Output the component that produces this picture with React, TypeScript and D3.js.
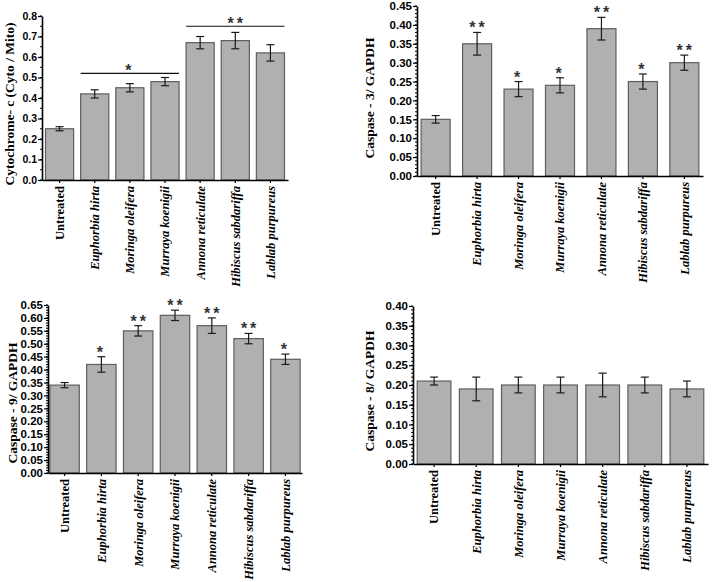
import { useEffect, useRef } from "react";
import * as d3 from "d3";

const categories = [
  "Untreated",
  "Euphorbia hirta",
  "Moringa oleifera",
  "Murraya koenigii",
  "Annona reticulate",
  "Hibiscus sabdariffa",
  "Lablab purpureus",
];

// Cytochrome-c (Cyto / Mito)
const cytoValues = [0.25, 0.42, 0.45, 0.48, 0.67, 0.68, 0.62];
const cytoErrors = [0.01, 0.02, 0.02, 0.02, 0.03, 0.04, 0.04];
const cytoBrackets = [
  { from: 1, to: 3, level: 0.52, label: "*" },
  { from: 4, to: 6, level: 0.75, label: "**" },
];

// Caspase-3 / GAPDH
const casp3Values = [0.15, 0.35, 0.23, 0.24, 0.39, 0.25, 0.3];
const casp3Errors = [0.01, 0.03, 0.02, 0.02, 0.03, 0.02, 0.02];
const casp3Stars = ["", "**", "*", "*", "**", "*", "**"];

// Caspase-9 / GAPDH
const casp9Values = [0.34, 0.42, 0.55, 0.61, 0.57, 0.52, 0.44];
const casp9Errors = [0.01, 0.03, 0.02, 0.02, 0.03, 0.02, 0.02];
const casp9Stars = ["", "*", "**", "**", "**", "**", "*"];

// Caspase-8 / GAPDH
const casp8Values = [0.21, 0.19, 0.2, 0.2, 0.2, 0.2, 0.19];
const casp8Errors = [0.01, 0.03, 0.02, 0.02, 0.03, 0.02, 0.02];

interface Bracket {
  from: number;
  to: number;
  level: number;
  label: string;
}

interface PanelProps {
  values: number[];
  errors: number[];
  stars?: string[];
  brackets?: Bracket[];
  yMax: number;
  major: number;
  minor: number;
  fmt: string;
  yLabel: string;
  box: { left: number; right: number; top: number; bottom: number };
  label: { x: number; y: number };
  padInner: number;
  padOuter: number;
  tickFont: number;
}

const Panel: React.FC<PanelProps> = (p) => {
  const gRef = useRef<SVGGElement | null>(null);

  useEffect(() => {
    if (!gRef.current) return;
    const g = d3.select(gRef.current);
    g.selectAll("*").remove();

    const x = d3
      .scaleBand()
      .domain(categories)
      .range([p.box.left, p.box.right])
      .paddingInner(p.padInner)
      .paddingOuter(p.padOuter);

    const y = d3.scaleLinear().domain([0, p.yMax]).range([p.box.bottom, p.box.top]);

    // bars
    g.selectAll(".bar")
      .data(p.values)
      .enter()
      .append("rect")
      .attr("x", (_, i) => x(categories[i]) ?? 0)
      .attr("y", (d) => y(d))
      .attr("width", x.bandwidth())
      .attr("height", (d) => y(0) - y(d))
      .attr("fill", "#b0b0b0")
      .attr("stroke", "#5e5e5e")
      .attr("stroke-width", 1.2);

    // error bars
    const cx = (i: number) => (x(categories[i]) ?? 0) + x.bandwidth() / 2;
    const eb = g.append("g").attr("stroke", "#1a1a1a").attr("stroke-width", 1.2);
    p.values.forEach((v, i) => {
      const hi = y(v + p.errors[i]);
      const lo = y(v - p.errors[i]);
      eb.append("line").attr("x1", cx(i)).attr("x2", cx(i)).attr("y1", hi).attr("y2", lo);
      eb.append("line").attr("x1", cx(i) - 4).attr("x2", cx(i) + 4).attr("y1", hi).attr("y2", hi);
      eb.append("line").attr("x1", cx(i) - 4).attr("x2", cx(i) + 4).attr("y1", lo).attr("y2", lo);
    });

    const starText = (sel: d3.Selection<SVGTextElement, any, any, any>) =>
      sel
        .attr("text-anchor", "middle")
        .attr("font-family", "Liberation Sans, Arial, sans-serif")
        .attr("font-weight", "bold")
        .attr("font-size", 16)
        .attr("letter-spacing", 3)
        .attr("fill", "#333");

    // significance stars above bars
    if (p.stars) {
      g.selectAll(".star")
        .data(p.stars)
        .enter()
        .append("text")
        .attr("x", (_, i) => cx(i) + (p.stars![i].length > 1 ? 1.5 : 0))
        .attr("y", (_, i) => y(p.values[i] + p.errors[i]) + 1)
        .call(starText)
        .text((d) => d);
    }

    // brackets
    if (p.brackets) {
      p.brackets.forEach((b) => {
        const x1 = x(categories[b.from]) ?? 0;
        const x2 = (x(categories[b.to]) ?? 0) + x.bandwidth();
        g.append("line")
          .attr("x1", x1)
          .attr("x2", x2)
          .attr("y1", y(b.level))
          .attr("y2", y(b.level))
          .attr("stroke", "#111")
          .attr("stroke-width", 1.2);
        g.append("text")
          .attr("x", (x1 + x2) / 2 + (b.label.length > 1 ? 1.5 : 0))
          .attr("y", y(b.level) + 3)
          .call(starText)
          .text(b.label);
      });
    }

    // minor ticks
    const minorTicks = d3.range(0, p.yMax + 1e-9, p.minor);
    g.append("g")
      .selectAll("line")
      .data(minorTicks)
      .enter()
      .append("line")
      .attr("x1", p.box.left - 2)
      .attr("x2", p.box.left)
      .attr("y1", (d) => y(d))
      .attr("y2", (d) => y(d))
      .attr("stroke", "#000")
      .attr("stroke-width", 1);

    // y axis
    const majorTicks = d3.range(0, p.yMax + 1e-9, p.major);
    const yAxis = g
      .append("g")
      .attr("transform", `translate(${p.box.left},0)`)
      .call(
        d3
          .axisLeft(y)
          .tickValues(majorTicks)
          .tickFormat(d3.format(p.fmt))
          .tickSize(4)
          .tickSizeOuter(0)
      );
    yAxis.select(".domain").attr("stroke-width", 1.6);
    yAxis.selectAll(".tick line").attr("stroke-width", 1.2);
    yAxis
      .selectAll("text")
      .attr("font-family", "Liberation Sans, Arial, sans-serif")
      .attr("font-weight", "bold")
      .attr("font-size", p.tickFont)
      .attr("x", -5)
      .attr("fill", "#000");

    // x axis
    const xAxis = g
      .append("g")
      .attr("transform", `translate(0,${p.box.bottom})`)
      .call(d3.axisBottom(x).tickSize(3).tickSizeOuter(0));
    xAxis.select(".domain").attr("stroke-width", 1.6);
    xAxis.selectAll(".tick line").attr("stroke-width", 1.2);
    xAxis
      .selectAll("text")
      .attr("transform", "rotate(-90)")
      .attr("text-anchor", "end")
      .attr("x", -6)
      .attr("y", 0)
      .attr("dy", "0.35em")
      .attr("font-family", "Liberation Serif, Times New Roman, serif")
      .attr("font-weight", "bold")
      .attr("font-size", 12.5)
      .attr("font-style", (d) => (d === "Untreated" ? "normal" : "italic"))
      .attr("fill", "#000");

    // y label
    g.append("text")
      .attr("transform", `translate(${p.label.x},${p.label.y}) rotate(-90)`)
      .attr("text-anchor", "middle")
      .attr("font-family", "Liberation Serif, Times New Roman, serif")
      .attr("font-weight", "bold")
      .attr("font-size", 13.5)
      .text(p.yLabel);
  }, [p]);

  return <g ref={gRef}></g>;
};

export default function App() {
  return (
    <svg
      width={714}
      height={582}
      style={{ position: "absolute", left: 0, top: 0, background: "#fff" }}
    >
      <Panel
        values={cytoValues}
        errors={cytoErrors}
        brackets={cytoBrackets}
        yMax={0.8}
        major={0.1}
        minor={0.05}
        fmt=".1f"
        yLabel="Cytochrome- c (Cyto / Mito)"
        box={{ left: 42, right: 288, top: 16, bottom: 180 }}
        label={{ x: 14, y: 104 }}
        padInner={0.2}
        padOuter={0.1}
        tickFont={10.5}
      />
      <Panel
        values={casp3Values}
        errors={casp3Errors}
        stars={casp3Stars}
        yMax={0.45}
        major={0.05}
        minor={0.01}
        fmt=".2f"
        yLabel="Caspase - 3/ GAPDH"
        box={{ left: 417, right: 703, top: 6, bottom: 176 }}
        label={{ x: 374, y: 98 }}
        padInner={0.3}
        padOuter={0.1}
        tickFont={11.5}
      />
      <Panel
        values={casp9Values}
        errors={casp9Errors}
        stars={casp9Stars}
        yMax={0.65}
        major={0.05}
        minor={0.01}
        fmt=".2f"
        yLabel="Caspase - 9/ GAPDH"
        box={{ left: 48, right: 302, top: 305, bottom: 473 }}
        label={{ x: 17, y: 403 }}
        padInner={0.2}
        padOuter={0.05}
        tickFont={11.5}
      />
      <Panel
        values={casp8Values}
        errors={casp8Errors}
        yMax={0.4}
        major={0.05}
        minor={0.01}
        fmt=".2f"
        yLabel="Caspase - 8/ GAPDH"
        box={{ left: 413, right: 708, top: 306, bottom: 464 }}
        label={{ x: 374, y: 391 }}
        padInner={0.2}
        padOuter={0.1}
        tickFont={11.5}
      />
    </svg>
  );
}
